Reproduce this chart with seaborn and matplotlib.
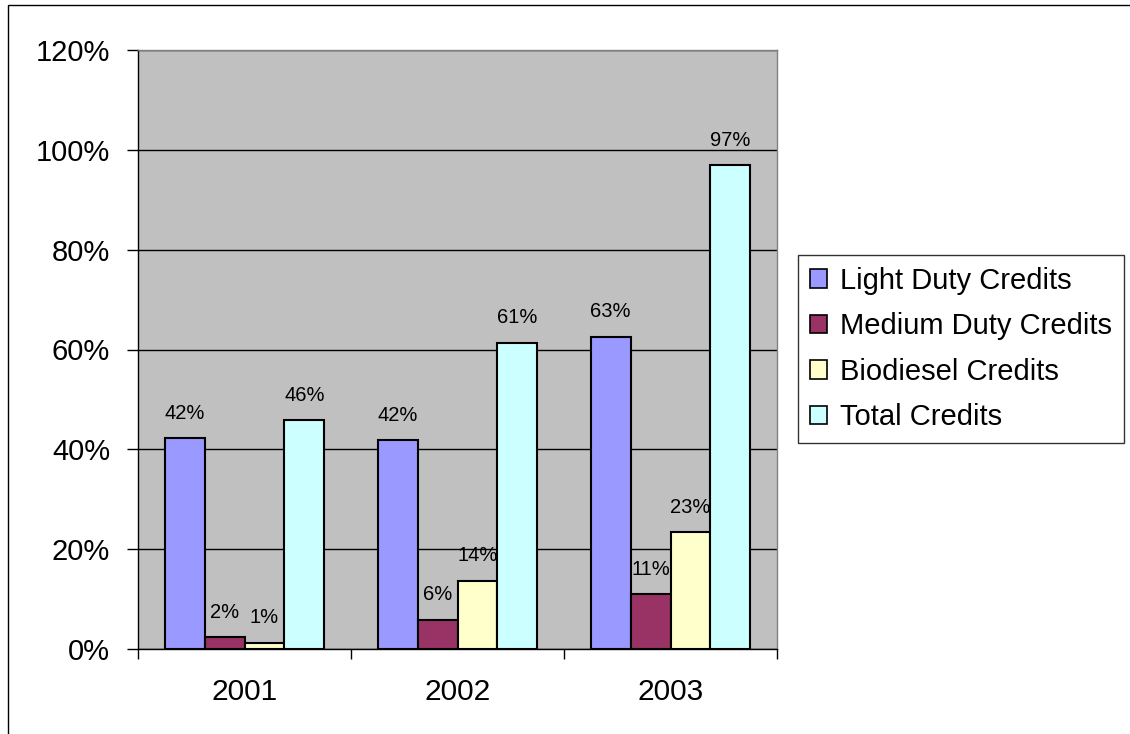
import pandas as pd
import matplotlib
matplotlib.use('Agg')
import matplotlib.pyplot as plt
from matplotlib.patches import Patch, Rectangle
import seaborn as sns

# Data
years = ['2001', '2002', '2003']
series = ['Light Duty Credits', 'Medium Duty Credits', 'Biodiesel Credits', 'Total Credits']
light_duty = [42.3, 41.9, 62.6]
medium_duty = [2.4, 5.9, 11.0]
biodiesel = [1.3, 13.7, 23.4]
total = [45.8, 61.4, 96.9]
colors = ['#9999FF', '#993366', '#FFFFCC', '#CCFFFF']

plt.rcParams['font.family'] = ['Liberation Sans', 'DejaVu Sans']

rows = []
for name, vals in zip(series, [light_duty, medium_duty, biodiesel, total]):
    for yr, v in zip(years, vals):
        rows.append({'Year': yr, 'Series': name, 'Value': v})
df = pd.DataFrame(rows)

fig = plt.figure(figsize=(11.3, 7.34), dpi=100)
ax = fig.add_axes([138 / 1130, 1 - 649 / 734, (777 - 138) / 1130, (649 - 50) / 734])
ax.set_facecolor('#C0C0C0')

sns.barplot(data=df, x='Year', y='Value', hue='Series', palette=colors,
            hue_order=series, order=years, width=0.75, edgecolor='black',
            linewidth=1.5, saturation=1, legend=False, ax=ax, zorder=3)

# Value labels above bars
for cont in ax.containers:
    ax.bar_label(cont, labels=[f'{b.get_height():.0f}%' for b in cont],
                 padding=11, fontsize=14.5, zorder=4)

ax.set_ylim(0, 120)
ax.set_xlim(-0.5, 2.5)
ax.set_yticks(range(0, 121, 20))
ax.set_yticklabels([f'{t}%' for t in range(0, 121, 20)], fontsize=21)
ax.yaxis.grid(True, color='black', linewidth=1)
ax.set_axisbelow(True)
ax.tick_params(axis='y', length=8, width=1, pad=12, direction='out')
ax.tick_params(axis='x', length=0, pad=21, labelsize=21.5)
ax.set_xticks([-0.5, 0.5, 1.5, 2.5], minor=True)
ax.tick_params(axis='x', which='minor', length=7, width=1, direction='out')
ax.set_xlabel('')
ax.set_ylabel('')

for side in ['left', 'bottom']:
    ax.spines[side].set_color('black')
    ax.spines[side].set_linewidth(1)
for side in ['top', 'right']:
    ax.spines[side].set_color('#808080')
    ax.spines[side].set_linewidth(1)

handles = [Patch(facecolor=c, edgecolor='black', linewidth=1.2) for c in colors]
leg = fig.legend(handles, series, loc='upper left',
                 bbox_to_anchor=(798 / 1130, 1 - 255 / 734),
                 fontsize=21, frameon=True, fancybox=False, edgecolor='black',
                 handlelength=0.6, handleheight=0.6, handletextpad=0.45,
                 labelspacing=0.6, borderpad=0.4, borderaxespad=0)
leg.get_frame().set_linewidth(1)

# Outer chart border
fig.patches.append(Rectangle((8 / 1130, -0.05), 1.0, 1 - 5 / 734 + 0.05,
                             transform=fig.transFigure, fill=False,
                             edgecolor='black', linewidth=1))

fig.savefig('out.png', dpi=100)
